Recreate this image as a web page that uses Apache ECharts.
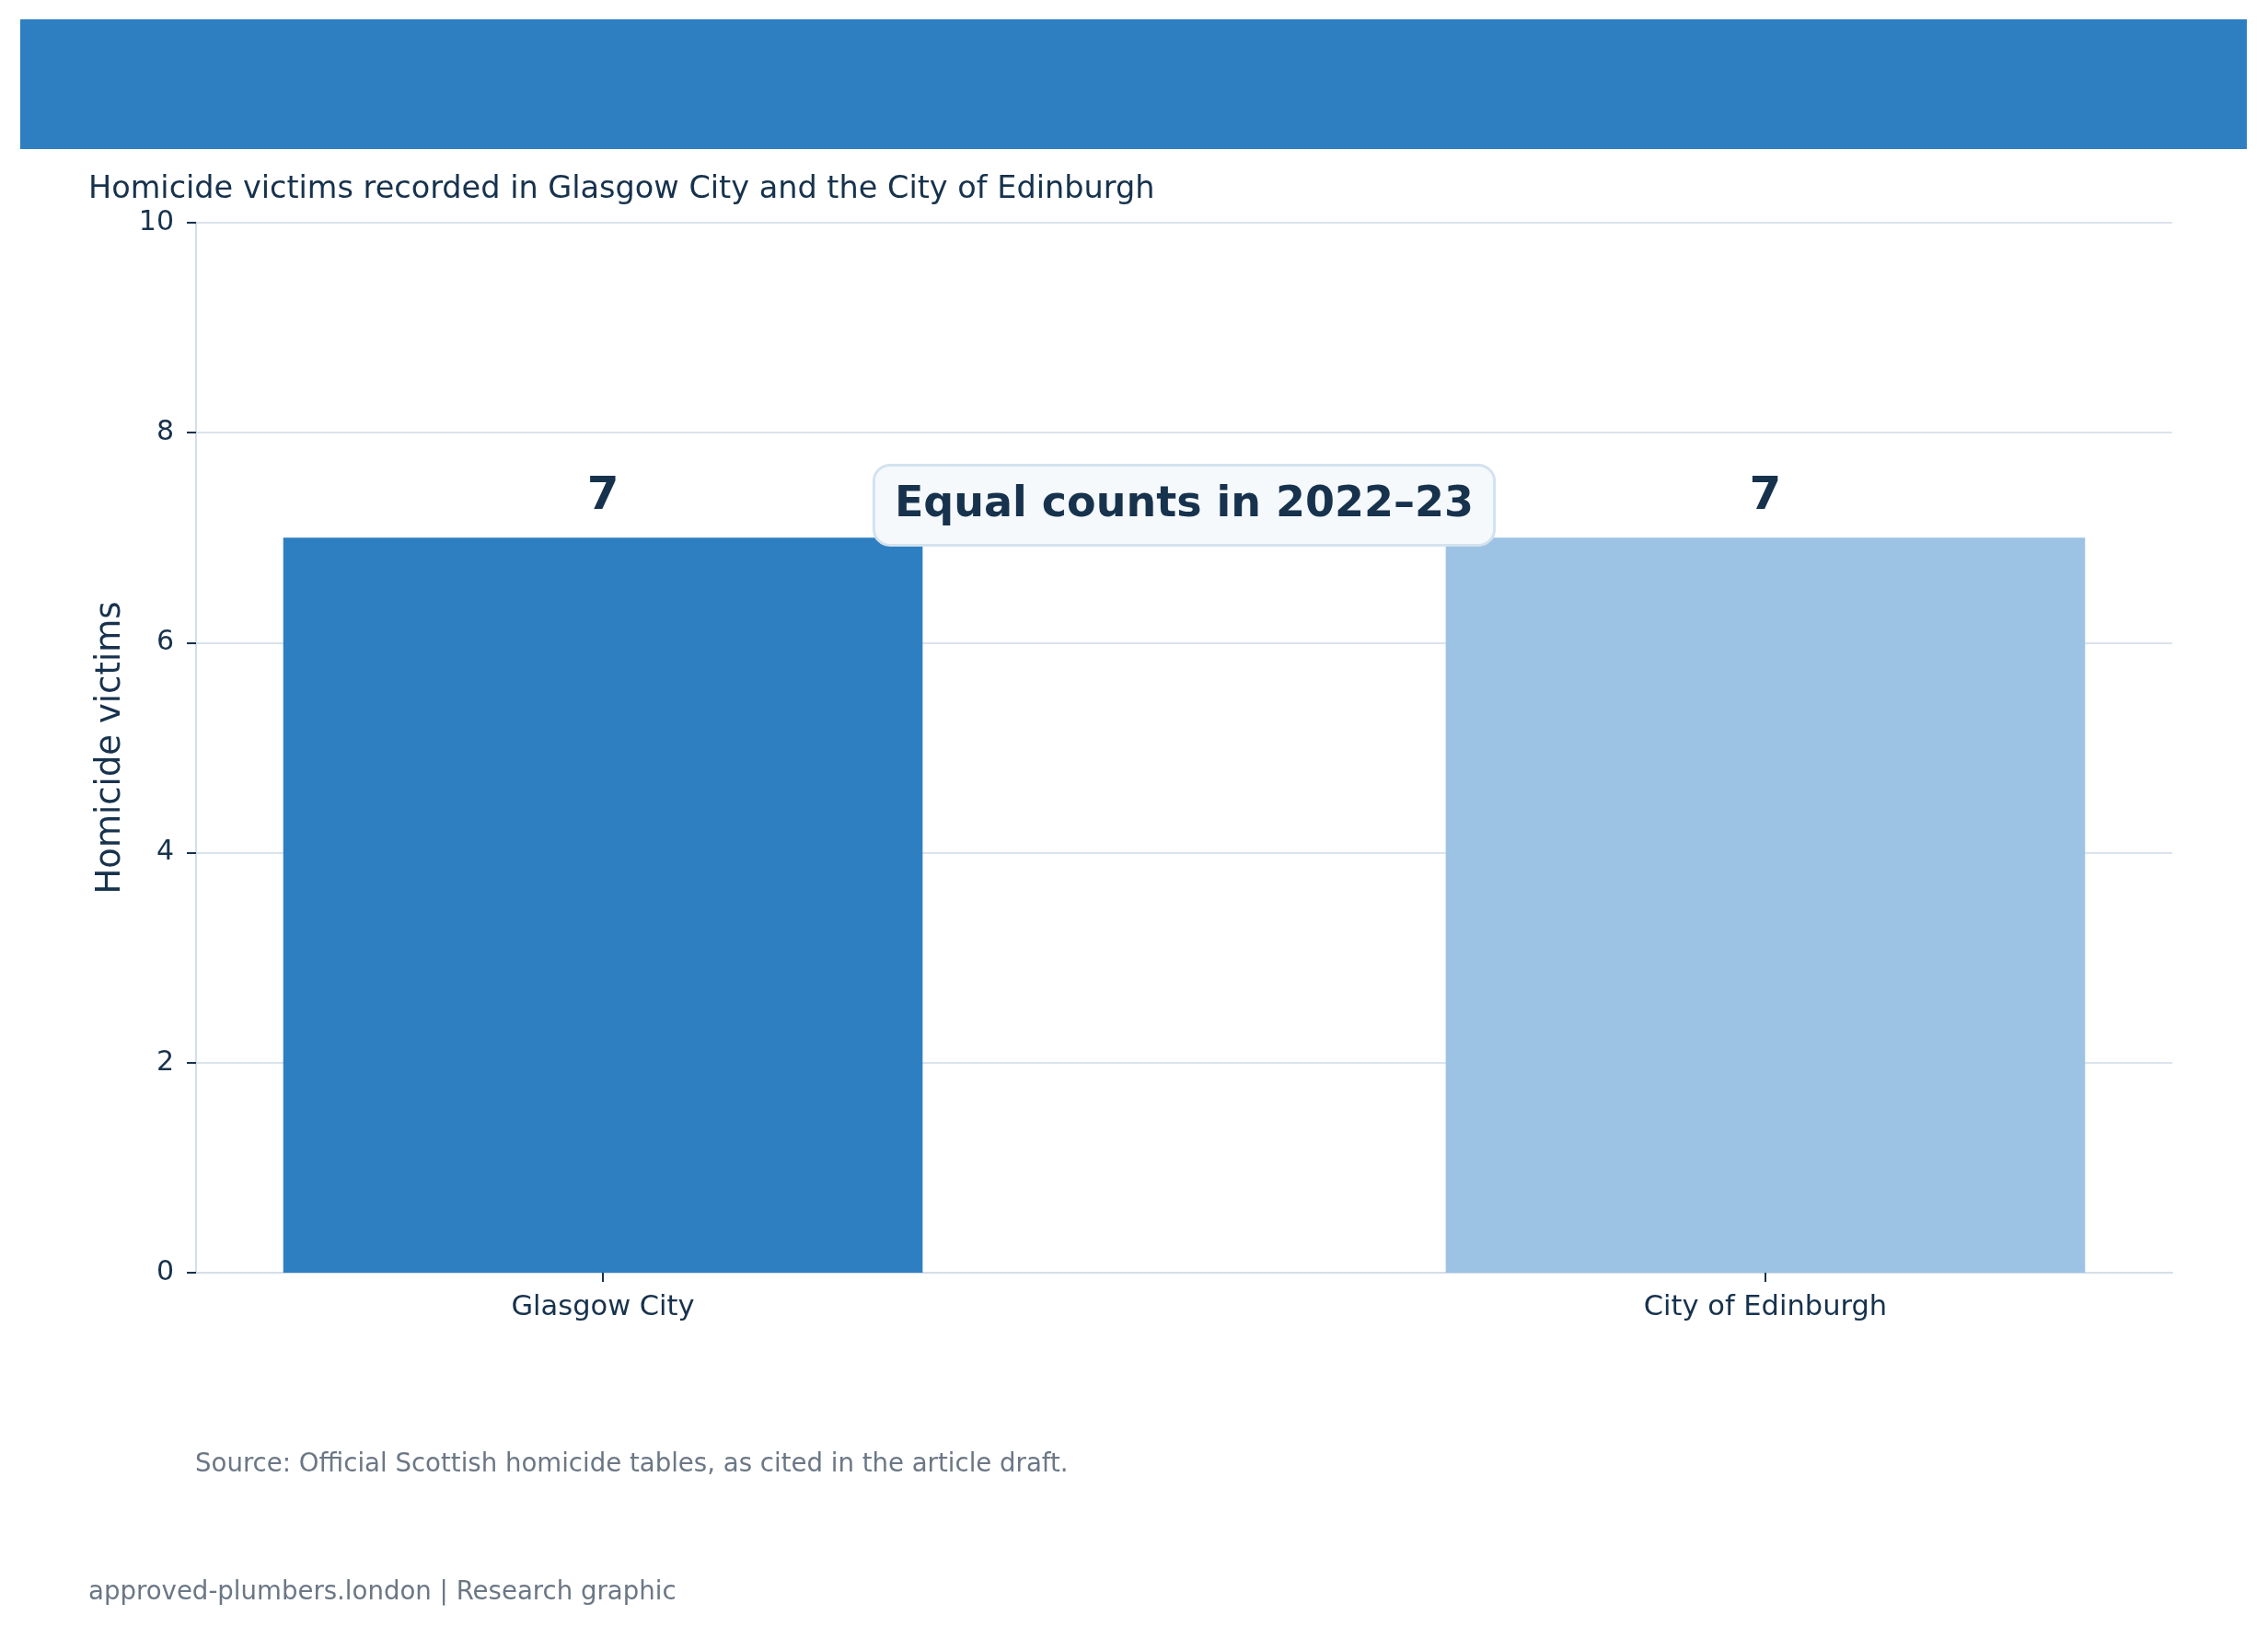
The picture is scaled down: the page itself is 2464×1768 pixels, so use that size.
<!DOCTYPE html>
<html>
<head>
<meta charset="utf-8">
<script src="https://cdn.jsdelivr.net/npm/echarts@6/dist/echarts.min.js"></script>
<style>
  html, body { margin: 0; padding: 0; background: #ffffff; }
  #chart { width: 2464px; height: 1768px; }
</style>
</head>
<body>
<div id="chart"></div>
<script>
var areas = ['Glasgow City', 'City of Edinburgh'];
var victims = [7, 7];
var yTicks = [0, 2, 4, 6, 8, 10];
var barColors = ['#2e7fc1', '#9dc3e4'];
var note = 'Equal counts in 2022\u201323';
var notePos = [0.5, 7.31]; // in data units, between the bars

var textDark = '#17324d';
var fontName = 'DejaVu Sans';

var chart = echarts.init(document.getElementById('chart'));

var option = {
    backgroundColor: '#ffffff',
    animation: false,
    title: [
        { text: 'Homicide victims recorded in Glasgow City and the City of Edinburgh', left: 96, top: 189, padding: 0,
          textStyle: { fontFamily: fontName, fontSize: 33.5, fontWeight: 'normal', color: textDark } },
        { text: 'Source: Official Scottish homicide tables, as cited in the article draft.', left: 212, top: 1578, padding: 0,
          textStyle: { fontFamily: fontName, fontSize: 27.6, fontWeight: 'normal', color: '#6b7785' } },
        { text: 'approved-plumbers.london | Research graphic', left: 96, top: 1717, padding: 0,
          textStyle: { fontFamily: fontName, fontSize: 27.6, fontWeight: 'normal', color: '#6b7785' } }
    ],
    graphic: [
        { type: 'rect', left: 22, top: 21, shape: { width: 2419, height: 141 }, style: { fill: '#2e7fc1' }, z: 0 }
    ],
    grid: { left: 213, right: 104, top: 242, bottom: 385, containLabel: false },
    xAxis: {
        type: 'value',
        min: -0.35,
        max: 1.35,
        splitLine: { show: false },
        axisLine: { show: true, onZero: false, lineStyle: { color: '#d5dee8', width: 2 } },
        axisTick: { show: true, customValues: [0, 1], length: 10, lineStyle: { color: textDark, width: 2 } },
        axisLabel: {
            customValues: [0, 1],
            margin: 23,
            fontFamily: fontName, fontSize: 30.5, color: textDark,
            formatter: function (v) { return areas[Math.round(v)]; }
        }
    },
    yAxis: {
        type: 'value',
        min: 0,
        max: 10,
        interval: 2,
        name: 'Homicide victims',
        nameLocation: 'middle',
        nameGap: 74,
        nameTextStyle: { fontFamily: fontName, fontSize: 37, color: textDark },
        axisLine: { show: true, onZero: false, lineStyle: { color: '#d5dee8', width: 2 } },
        axisTick: { show: true, length: 10, lineStyle: { color: textDark, width: 2 } },
        axisLabel: {
            margin: 24, fontFamily: fontName, fontSize: 30, color: textDark,
            customValues: yTicks
        },
        splitLine: { show: true, lineStyle: { color: '#dbe3ec', width: 2 } }
    },
    series: [{
        type: 'bar',
        barWidth: '55%',
        data: victims.map(function (v, i) {
            return { value: [i, v], itemStyle: { color: barColors[i] } };
        }),
        label: {
            show: true,
            position: 'top',
            distance: 19,
            fontFamily: fontName, fontSize: 50, fontWeight: 'bold', color: textDark,
            formatter: function (p) { return p.value[1]; }
        }
    }]
};
chart.setOption(option);

// annotation box placed through the chart's own scales
var pt = chart.convertToPixel({ gridIndex: 0 }, notePos);
chart.setOption({
    graphic: [
        { type: 'rect', left: 22, top: 21, shape: { width: 2419, height: 141 }, style: { fill: '#2e7fc1' }, z: 0 },
        {
            type: 'text', x: pt[0], y: pt[1], z: 100,
            style: {
                text: note, align: 'center', verticalAlign: 'middle',
                fontFamily: fontName, fontSize: 46, fontWeight: 'bold', fill: textDark,
                backgroundColor: '#f5f9fc', borderColor: '#d3e2ef', borderWidth: 3, borderRadius: 16,
                padding: [19, 21, 19, 21]
            }
        }
    ]
});
</script>
</body>
</html>
